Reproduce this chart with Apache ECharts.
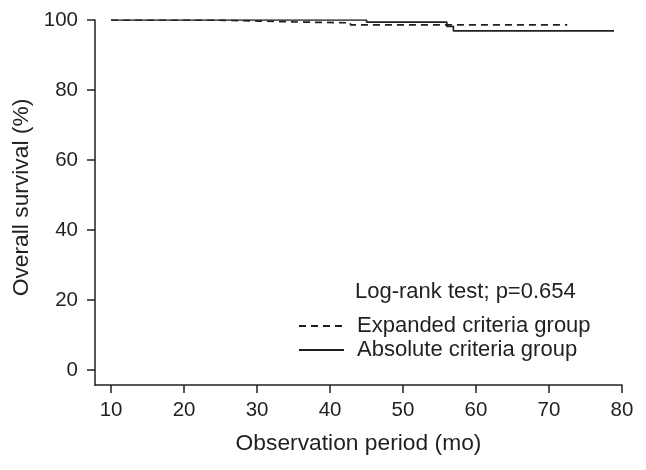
<!DOCTYPE html>
<html>
<head>
<meta charset="utf-8">
<script src="https://cdn.jsdelivr.net/npm/echarts@6/dist/echarts.min.js"></script>
<style>
html,body{margin:0;padding:0;background:#fff;}
#main{width:646px;height:470px;}
</style>
</head>
<body>
<div id="main"></div>
<script>
// Data
var xTicks = [10, 20, 30, 40, 50, 60, 70, 80];
var yTicks = [0, 20, 40, 60, 80, 100];
var absoluteTimes = [10, 45.0, 56.0, 56.9, 78.9];
var absoluteSurv  = [100, 99.4, 98.2, 96.9, 96.9];
var expandedTimes = [10, 23.7, 30.1, 36.3, 42.8, 72.5];
var expandedSurv  = [100, 99.7, 99.4, 99.2, 98.6, 98.6];
var seriesNames = ['Expanded criteria group', 'Absolute criteria group'];
var testLabel = 'Log-rank test; p=0.654';

function pairs(xs, ys) { return xs.map(function (x, i) { return [x, ys[i]]; }); }

var FONT = '"Liberation Sans", Arial, sans-serif';
var INK = '#231f20';
var TICKFS = 20.5;
var TEXTFS = 22;
var NAMEFS = 22.8;

var chart = echarts.init(document.getElementById('main'), null, {renderer: 'canvas'});
chart.setOption({
  animation: false,
  backgroundColor: '#fff',
  grid: {left: 95, right: 24, top: 20, bottom: 85, containLabel: false, outerBoundsMode: 'none'},
  xAxis: {
    type: 'value', min: 7.8, max: 80,
    name: 'Observation period (mo)', nameLocation: 'middle', nameGap: 47,
    nameTextStyle: {fontSize: NAMEFS, color: INK, fontFamily: FONT},
    axisLine: {show: true, onZero: false, lineStyle: {color: INK, width: 1.5}},
    axisTick: {show: true, length: 8, inside: false, customValues: xTicks, lineStyle: {color: INK, width: 1.5}},
    axisLabel: {customValues: xTicks, fontSize: TICKFS, color: INK, fontFamily: FONT, margin: 15},
    splitLine: {show: false}
  },
  yAxis: {
    type: 'value', min: -4.3, max: 100,
    name: 'Overall survival (%)', nameLocation: 'middle', nameGap: 62,
    nameTextStyle: {fontSize: NAMEFS, color: INK, fontFamily: FONT, padding: [0, 0, 0, 10]},
    axisLine: {show: true, onZero: false, lineStyle: {color: INK, width: 1.5}},
    axisTick: {show: true, length: 8, inside: false, customValues: yTicks, lineStyle: {color: INK, width: 1.5}},
    axisLabel: {customValues: yTicks, fontSize: TICKFS, color: INK, fontFamily: FONT, margin: 17},
    splitLine: {show: false}
  },
  legend: {
    orient: 'vertical', left: 298, top: 315, padding: 0,
    itemWidth: 45, itemHeight: 14, itemGap: 2,
    itemStyle: {opacity: 0},
    textStyle: {fontSize: TEXTFS, color: INK, fontFamily: FONT, padding: [0, 0, 0, 8]},
    data: seriesNames
  },
  graphic: [{
    type: 'text', left: 355, top: 281,
    style: {text: testLabel, font: TEXTFS + 'px ' + FONT, fill: INK}
  }],
  series: [
    {
      name: seriesNames[0], type: 'line', step: 'end', symbol: 'none',
      data: pairs(expandedTimes, expandedSurv),
      lineStyle: {color: INK, width: 1.7, type: [7, 5]},
      itemStyle: {color: INK}
    },
    {
      name: seriesNames[1], type: 'line', step: 'end', symbol: 'none',
      data: pairs(absoluteTimes, absoluteSurv),
      lineStyle: {color: INK, width: 1.7, type: 'solid'},
      itemStyle: {color: INK}
    }
  ]
});
</script>
</body>
</html>
